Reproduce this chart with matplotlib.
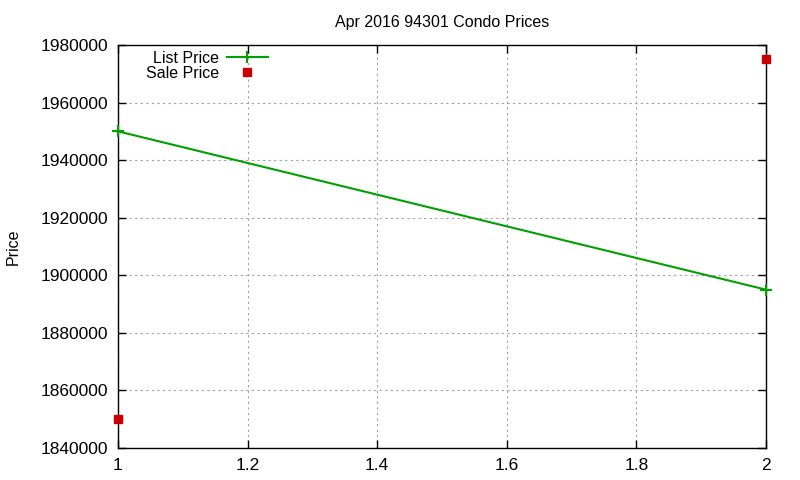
import matplotlib
matplotlib.use("Agg")
import matplotlib.pyplot as plt
from matplotlib.ticker import MultipleLocator, FormatStrFormatter

plt.rcParams["font.family"] = ["Liberation Sans", "DejaVu Sans"]

# --- data ---
periods = [1, 2]
list_price = [1950000, 1895000]
sale_price = [1850000, 1975000]
x_ticks = [1, 1.2, 1.4, 1.6, 1.8, 2]
x_tick_labels = ["1", "1.2", "1.4", "1.6", "1.8", "2"]

fig = plt.figure(figsize=(8, 4.8), dpi=100)
ax = fig.add_axes([0.1475, 0.0667, 0.81, 0.8396])

ax.plot(periods, list_price, color="#00a000", linewidth=1.5,
        marker="+", markersize=9, markeredgewidth=1.5, label="List Price",
        clip_on=False, zorder=3)
ax.plot(periods, sale_price, linestyle="none", color="#cc0000",
        marker="s", markersize=6, label="Sale Price", clip_on=False, zorder=3)

ax.set_xlim(1, 2)
ax.set_ylim(1840000, 1980000)
ax.set_xticks(x_ticks)
ax.set_xticklabels(x_tick_labels)
ax.yaxis.set_major_locator(MultipleLocator(20000))
ax.yaxis.set_major_formatter(FormatStrFormatter("%d"))

ax.grid(True, color="#a0a0a0", linestyle=(0, (2, 3)), linewidth=0.8)
ax.tick_params(direction="in", length=6, width=1, top=True, right=True,
               labelsize=12.5, pad=7)
for s in ax.spines.values():
    s.set_linewidth(1)

ax.set_title("Apr 2016 94301 Condo Prices", fontsize=11.5, pad=13)
ax.set_ylabel("Price", fontsize=11.5)
ax.yaxis.set_label_coords(-0.15, 0.5)

ax.legend(loc="upper left", bbox_to_anchor=(0.04, 0.99), frameon=False,
          markerfirst=False, fontsize=11.5, handlelength=2.6,
          borderaxespad=0.0, labelspacing=0.0, handletextpad=0.5,
          borderpad=0.1)

fig.savefig("out.png", dpi=100)
